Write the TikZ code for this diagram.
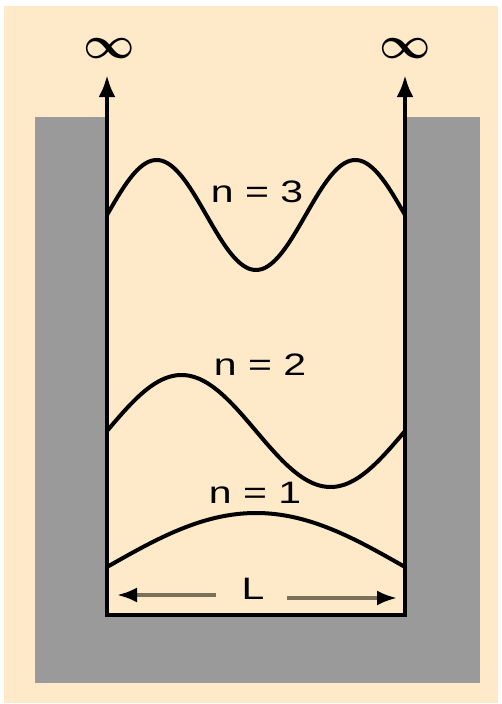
\documentclass[tikz,border=0pt]{standalone}
\usepackage{fontspec}
\setmainfont{Liberation Sans}
\usepackage{tikz}
\usetikzlibrary{positioning,arrows.meta}
\definecolor{peach}{HTML}{FEEAC8}
\definecolor{wellgray}{HTML}{9A9A9A}
\definecolor{dimgray}{HTML}{7A705C}

\begin{document}
\begin{tikzpicture}[
    x=1pt, y=-1pt,
    every node/.style={inner sep=0pt},
    wavelabel/.style={font=\fontsize{31}{32}\selectfont, xscale=1.32},
    wall/.style={line width=4.2pt, line join=miter,
        {Latex[length=22pt,width=17pt]}-{Latex[length=22pt,width=17pt]}},
    wave/.style={line width=4pt, domain=107:405, samples=120, line join=round},
    dimline/.style={dimgray, line width=3.5pt, -{Latex[length=20pt,width=15pt,color=black]}},
    inflabel/.style={font=\fontsize{24.88}{25}\selectfont\boldmath, scale=1.8}
]
    \useasboundingbox (0,0) rectangle (502,704);

    % Background, surrounding gray and the well
    \fill[white] (0,0) rectangle (502,704);
    \fill[peach] (4,6) rectangle (498,703);
    \fill[wellgray] (35,117) rectangle (480,683);
    \fill[peach] (107,117) rectangle (405,615);

    % Walls going to infinity
    \coordinate (tl) at (107,75);
    \coordinate (bl) at (107,615);
    \coordinate (br) at (405,615);
    \coordinate (tr) at (405,75);
    \draw[wall] (tl) -- (bl) -- (br) -- (tr);
    \node[inflabel] (infl) at (109,49) {$\infty$};
    \node[inflabel] (infr) at (405,49) {$\infty$};

    % Standing waves
    \draw[wave] plot (\x, {215 - 55*sin(540/298*(\x-107))});
    \draw[wave] plot (\x, {431 - 56*sin(360/298*(\x-107))});
    \draw[wave] plot (\x, {567 - 54*sin(180/298*(\x-107))});
    \node[wavelabel] (lab3) at (257,192) {n = 3};
    \node[wavelabel] (lab2) at (260,365) {n = 2};
    \node[wavelabel] (lab1) at (255,493) {n = 1};

    % Width of the well
    \node[wavelabel] (len) at (253,589) {L};
    \coordinate (lenl0) at (216,595);
    \coordinate (lenl) at (117,595);
    \coordinate (lenr0) at (287,598);
    \coordinate (lenr) at (397,598);
    \draw[dimline] (lenl0) -- (lenl);
    \draw[dimline] (lenr0) -- (lenr);

\end{tikzpicture}
\end{document}
